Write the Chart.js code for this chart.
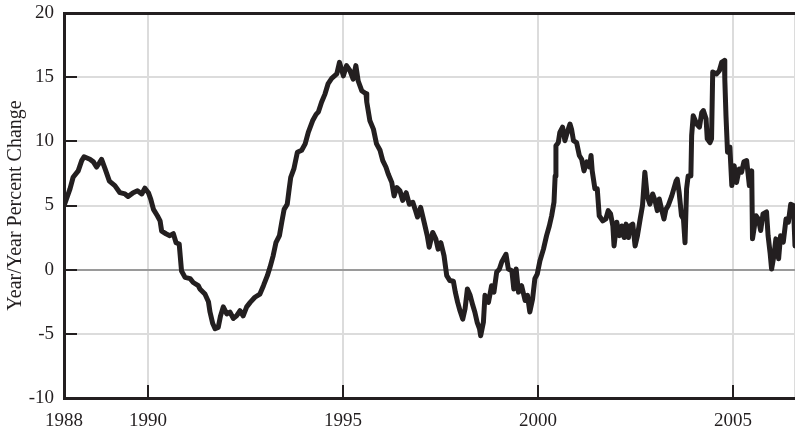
<!DOCTYPE html>
<html>
<head>
<meta charset="utf-8">
<script src="https://cdn.jsdelivr.net/npm/chart.js@4/dist/chart.umd.min.js"></script>
<style>
  html, body { margin: 0; padding: 0; background: #ffffff; }
  #wrap { width: 795px; height: 435px; }
</style>
</head>
<body>
<div id="wrap"><canvas id="c" width="795" height="435"></canvas></div>
<script>
// ---- data ----
const years = [
  1987.85, 1988.00, 1988.08, 1988.21, 1988.30, 1988.36, 1988.51, 1988.60, 1988.68, 1988.75,
  1988.81, 1988.90, 1989.01, 1989.15, 1989.28, 1989.41, 1989.49, 1989.62, 1989.73, 1989.84,
  1989.92, 1990.01, 1990.07, 1990.14, 1990.24, 1990.31, 1990.35, 1990.46, 1990.56, 1990.65,
  1990.72, 1990.80, 1990.86, 1990.95, 1991.08, 1991.16, 1991.29, 1991.33, 1991.46, 1991.55,
  1991.59, 1991.66, 1991.72, 1991.80, 1991.86, 1991.93, 1992.02, 1992.10, 1992.19, 1992.27,
  1992.36, 1992.44, 1992.53, 1992.62, 1992.74, 1992.87, 1992.96, 1993.06, 1993.13, 1993.21,
  1993.28, 1993.37, 1993.43, 1993.49, 1993.57, 1993.62, 1993.66, 1993.74, 1993.83, 1993.94,
  1994.03, 1994.11, 1994.22, 1994.31, 1994.37, 1994.45, 1994.54, 1994.62, 1994.71, 1994.84,
  1994.91, 1995.01, 1995.09, 1995.18, 1995.26, 1995.33, 1995.39, 1995.48, 1995.59, 1995.61,
  1995.69, 1995.78, 1995.86, 1995.95, 1996.02, 1996.10, 1996.16, 1996.25, 1996.31, 1996.38,
  1996.46, 1996.53, 1996.62, 1996.70, 1996.79, 1996.85, 1996.91, 1996.99, 1997.08, 1997.16,
  1997.21, 1997.30, 1997.38, 1997.44, 1997.51, 1997.59, 1997.66, 1997.74, 1997.83, 1997.88,
  1997.94, 1998.00, 1998.07, 1998.13, 1998.19, 1998.26, 1998.33, 1998.38, 1998.44, 1998.50,
  1998.53, 1998.60, 1998.64, 1998.73, 1998.81, 1998.87, 1998.94, 1999.01, 1999.07, 1999.18,
  1999.24, 1999.33, 1999.38, 1999.44, 1999.50, 1999.58, 1999.67, 1999.73, 1999.79, 1999.86,
  1999.92, 1999.98, 2000.05, 2000.14, 2000.22, 2000.29, 2000.35, 2000.41, 2000.44, 2000.46,
  2000.52, 2000.56, 2000.63, 2000.69, 2000.75, 2000.82, 2000.86, 2000.91, 2000.99, 2001.06,
  2001.12, 2001.18, 2001.25, 2001.32, 2001.36, 2001.39, 2001.46, 2001.52, 2001.57, 2001.66,
  2001.74, 2001.80, 2001.86, 2001.92, 2001.95, 2002.02, 2002.09, 2002.15, 2002.21, 2002.26,
  2002.32, 2002.36, 2002.43, 2002.49, 2002.55, 2002.62, 2002.68, 2002.74, 2002.80, 2002.87,
  2002.94, 2003.00, 2003.06, 2003.11, 2003.17, 2003.23, 2003.28, 2003.34, 2003.43, 2003.54,
  2003.57, 2003.62, 2003.68, 2003.73, 2003.77, 2003.81, 2003.85, 2003.92, 2003.94, 2003.98,
  2004.07, 2004.14, 2004.20, 2004.24, 2004.31, 2004.34, 2004.41, 2004.45, 2004.48, 2004.58,
  2004.65, 2004.71, 2004.78, 2004.79, 2004.82, 2004.86, 2004.92, 2004.97, 2005.03, 2005.09,
  2005.16, 2005.22, 2005.28, 2005.35, 2005.42, 2005.48, 2005.50, 2005.59, 2005.65, 2005.71,
  2005.77, 2005.86, 2005.90, 2005.95, 2005.99, 2006.05, 2006.10, 2006.17, 2006.22, 2006.29,
  2006.36, 2006.42, 2006.48, 2006.55, 2006.59
];
const pctChange = [
  5.0, 6.3, 7.2, 7.7, 8.5, 8.8, 8.6, 8.4, 8.0, 8.3,
  8.6, 7.85, 6.9, 6.55, 6.0, 5.9, 5.7, 6.0, 6.15, 5.9,
  6.35, 6.0, 5.5, 4.7, 4.2, 3.8, 3.0, 2.8, 2.65, 2.8,
  2.1, 2.0, -0.1, -0.6, -0.7, -1.0, -1.25, -1.5, -1.9, -2.5,
  -3.3, -4.2, -4.6, -4.5, -3.6, -2.9, -3.45, -3.3, -3.8, -3.6,
  -3.2, -3.6, -2.9, -2.55, -2.15, -1.9, -1.25, -0.47, 0.2, 1.1,
  2.1, 2.65, 3.7, 4.7, 5.1, 6.3, 7.2, 7.85, 9.15, 9.3,
  9.8, 10.7, 11.6, 12.1, 12.3, 13.05, 13.7, 14.5, 14.9, 15.25,
  16.15, 15.1, 15.9, 15.5, 14.85, 15.9, 14.7, 13.95, 13.7, 13.05,
  11.6, 10.95, 9.8, 9.3, 8.5, 8.0, 7.45, 6.8, 5.75, 6.4,
  6.15, 5.4, 6.0, 5.1, 5.25, 4.7, 4.1, 4.85, 3.7, 2.65,
  1.75, 2.9, 2.4, 1.6, 2.1, 1.1, -0.47, -0.85, -0.9, -1.75,
  -2.55, -3.2, -3.85, -3.05, -1.5, -2.0, -2.8, -3.3, -4.1, -4.6,
  -5.15, -4.1, -2.0, -2.55, -1.25, -1.75, -0.2, 0.05, 0.6, 1.2,
  0.05, -0.08, -1.5, 0.05, -1.75, -1.25, -2.4, -2.0, -3.3, -2.3,
  -0.7, -0.35, 0.7, 1.6, 2.65, 3.4, 4.2, 5.25, 7.3, 9.65,
  9.9, 10.7, 11.1, 10.05, 10.7, 11.35, 10.95, 10.05, 9.9, 8.9,
  8.6, 7.7, 8.4, 8.0, 8.9, 7.7, 6.3, 6.3, 4.2, 3.8,
  3.95, 4.6, 4.35, 3.4, 1.85, 3.7, 2.65, 3.4, 2.5, 3.55,
  2.5, 3.4, 3.55, 1.85, 2.65, 3.95, 5.0, 7.6, 5.75, 5.1,
  5.9, 5.4, 4.6, 5.5, 4.7, 3.95, 4.7, 5.0, 5.75, 6.9,
  7.05, 6.0, 4.2, 3.95, 2.1, 6.3, 7.3, 7.3, 10.45, 12.0,
  11.35, 11.1, 12.25, 12.4, 11.75, 10.2, 9.9, 10.2, 15.4, 15.25,
  15.5, 16.15, 16.3, 14.85, 12.0, 9.15, 9.55, 6.55, 8.1, 6.8,
  7.85, 7.6, 8.4, 8.5, 6.55, 7.7, 2.4, 4.2, 3.95, 3.05,
  4.35, 4.5, 2.65, 1.35, 0.05, 1.1, 2.4, 0.85, 2.65, 2.15,
  3.95, 3.7, 5.1, 5.0, 1.85
];
const xStart = 1987.846;
const xEnd = 2006.59;
const xTickValues = [1990, 1995, 2000, 2005];
const xStartLabel = '1988';
const yTickValues = [-10, -5, 0, 5, 10, 15, 20];
const yTitle = 'Year/Year Percent Change';

const INK = '#231f20';
const FONT = "'Liberation Serif', 'DejaVu Serif', serif";

const innerTicks = {
  id: 'innerTicks',
  afterDatasetsDraw(chart) {
    const { ctx, chartArea, scales } = chart;
    ctx.save();
    ctx.strokeStyle = INK;
    ctx.lineWidth = 2;
    ctx.beginPath();
    yTickValues.forEach(v => {
      if (v === -10 || v === 20) return;
      const y = Math.round(scales.y.getPixelForValue(v));
      ctx.moveTo(chartArea.left, y);
      ctx.lineTo(chartArea.left + 13, y);
    });
    xTickValues.forEach(v => {
      const x = Math.round(scales.x.getPixelForValue(v));
      ctx.moveTo(x, chartArea.bottom);
      ctx.lineTo(x, chartArea.bottom - 13);
    });
    ctx.stroke();
    ctx.restore();
  }
};

new Chart(document.getElementById('c'), {
  type: 'line',
  data: {
    datasets: [{
      data: years.map((x, i) => ({ x: x, y: pctChange[i] })),
      borderColor: INK,
      backgroundColor: INK,
      borderWidth: 5,
      pointRadius: 0,
      tension: 0,
      borderJoinStyle: 'round',
      borderCapStyle: 'round',
      fill: false
    }]
  },
  options: {
    responsive: false,
    animation: false,
    devicePixelRatio: 1,
    layout: { padding: { top: 13, right: 0, left: 0, bottom: 0 } },
    plugins: { legend: { display: false }, tooltip: { enabled: false } },
    scales: {
      x: {
        type: 'linear',
        min: xStart,
        max: xEnd,
        afterBuildTicks: (s) => {
          s.ticks = [xStart].concat(xTickValues, [xEnd]).map(v => ({ value: v }));
        },
        afterFit: (s) => { s.height = 37; s.paddingLeft = 0; s.paddingRight = 0; },
        ticks: {
          autoSkip: false,
          maxRotation: 0,
          padding: 12,
          color: INK,
          font: { family: FONT, size: 19 },
          callback: (v) => v === xStart ? xStartLabel : (v === xEnd ? '' : String(v))
        },
        grid: {
          drawTicks: false,
          color: (c) => (c.tick && (c.tick.value === xStart)) ? 'rgba(0,0,0,0)' : '#dcdcdc',
          lineWidth: 2
        },
        border: { display: true, color: INK, width: 3 }
      },
      y: {
        min: -10,
        max: 20,
        afterBuildTicks: (s) => { s.ticks = yTickValues.map(v => ({ value: v })); },
        afterFit: (s) => { s.width = 64; s.paddingTop = 0; s.paddingBottom = 0; },
        ticks: {
          padding: 10,
          color: INK,
          font: { family: FONT, size: 19 }
        },
        grid: {
          drawTicks: false,
          color: (c) => {
            const v = c.tick ? c.tick.value : null;
            if (v === 20) return INK;
            if (v === 0) return '#9a9a9a';
            if (v === -10) return 'rgba(0,0,0,0)';
            return '#dcdcdc';
          },
          lineWidth: (c) => (c.tick && c.tick.value === 20) ? 3 : 2
        },
        border: { display: true, color: INK, width: 3 },
        title: {
          display: true,
          text: yTitle,
          color: INK,
          font: { family: FONT, size: 20 },
          padding: { top: 4, bottom: 0 }
        }
      }
    }
  },
  plugins: [innerTicks]
});
</script>
</body>
</html>
